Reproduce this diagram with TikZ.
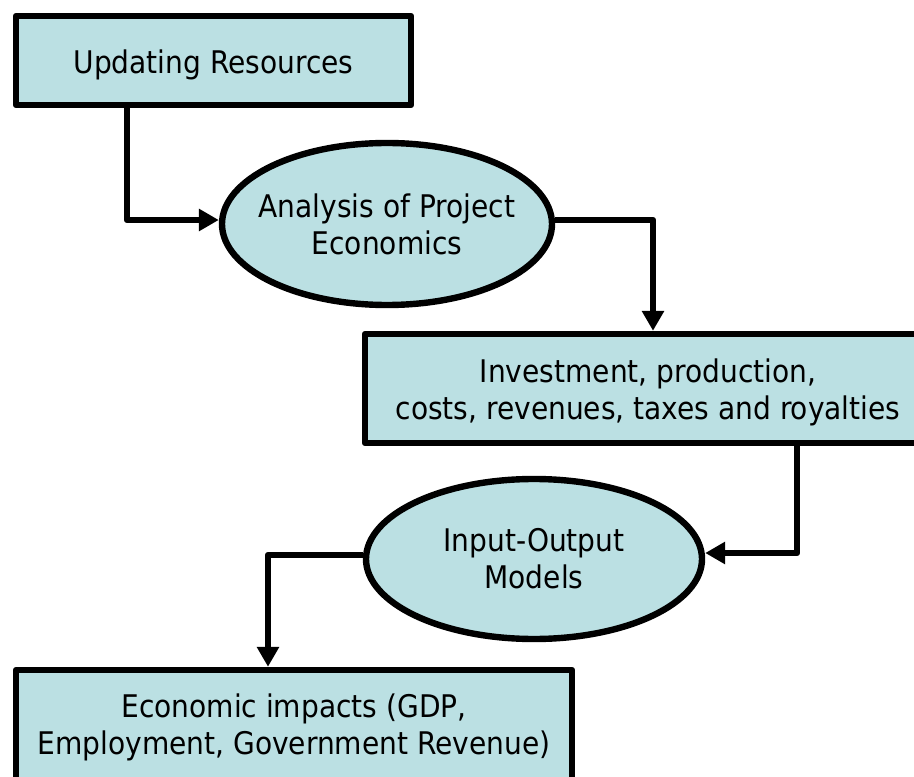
\documentclass[tikz,border=0pt]{standalone}
\usepackage{fontspec}
\setmainfont{DejaVu Sans Condensed}
\usetikzlibrary{shapes.geometric,arrows.meta}
\definecolor{boxfill}{HTML}{BBE0E3}
\tikzset{
  stepbox/.style={draw=black, fill=boxfill, line width=4.8pt, line join=round,
    inner sep=0pt},
  oval/.style={ellipse, draw=black, fill=boxfill, line width=4.8pt, inner sep=0pt},
  label text/.style={align=center, inner sep=0pt},
  conn/.style={draw=black, line width=4.8pt, line join=round,
    -{Triangle[length=15pt,width=16pt]}},
}
\begin{document}
\begin{tikzpicture}[x=0.75pt, y=-0.75pt,
  every node/.append style={font=\fontsize{23.4pt}{27.75pt}\selectfont}]
\useasboundingbox (0,0) rectangle (914,777);
\clip (0,0) rectangle (914,777);

% boxes
\node[stepbox, minimum width=296.25pt, minimum height=66.75pt] (b1) at (213.5,60.5) {};
\node[label text, yshift=-3pt] (l1) at (b1) {Updating Resources};
\node[stepbox, minimum width=424.5pt, minimum height=81.75pt] (b2) at (648,388.5) {};
\node[label text, yshift=-3pt] (l2) at (b2)
  {Investment, production,\\costs, revenues, taxes and royalties};
\node[stepbox, minimum width=417pt, minimum height=82.5pt] (b3) at (294,725) {};
\node[label text, yshift=-2pt] (l3) at (b3)
  {Economic impacts (GDP,\\Employment, Government Revenue)};

% ellipses
\node[oval, minimum width=247.5pt, minimum height=121.5pt] (e1) at (387,224) {};
\node[label text] (t1) at (e1) {Analysis of Project\\Economics};
\node[oval, minimum width=252pt, minimum height=120pt] (e2) at (534,559) {};
\node[label text] (t2) at (e2) {Input-Output\\Models};

% bend points of the connectors
\coordinate (k1) at (127,220);
\coordinate (k2) at (653,220);
\coordinate (k3) at (797,553);
\coordinate (k4) at (268,555);

% connectors
\draw[conn] (b1.south -| k1) -- (k1) -- (k1 -| e1.west);
\draw[conn] (e1.east |- k2) -- (k2) -- (b2.north -| k2);
\draw[conn] (b2.south -| k3) -- (k3) -- (k3 -| e2.east);
\draw[conn] (e2.west |- k4) -- (k4) -- (b3.north -| k4);
\end{tikzpicture}
\end{document}
